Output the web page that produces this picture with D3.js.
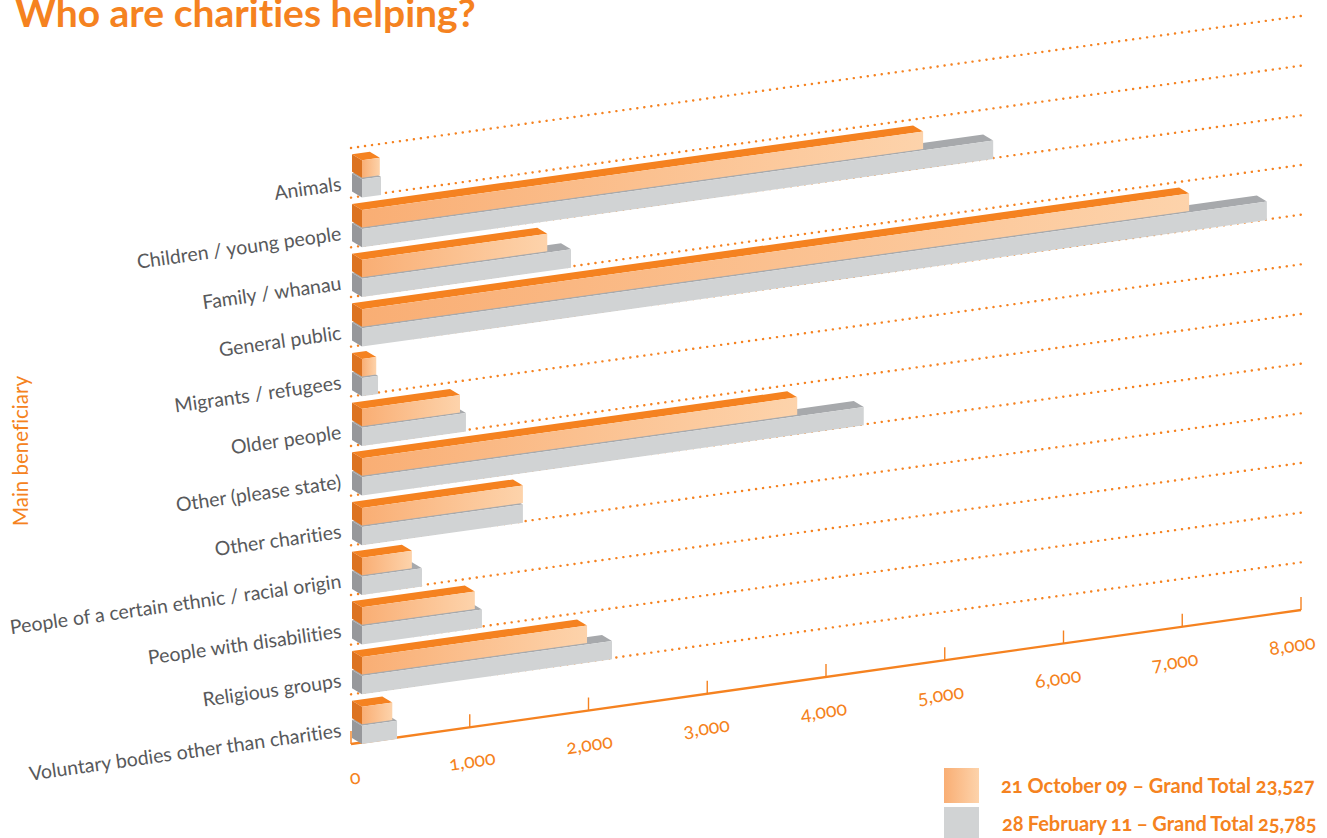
<!DOCTYPE html>
<html><head><meta charset="utf-8">
<script src="https://cdn.jsdelivr.net/npm/d3@7"></script>
<style>html,body{margin:0;padding:0;background:#fff;overflow:hidden}svg{display:block}
text{font-family:Lato,"Open Sans",sans-serif;font-variant-ligatures:none;font-feature-settings:"onum" 1,"liga" 0}</style>
</head><body><svg id="c" width="1327" height="838"></svg>
<script>
const categories = ["Animals","Children / young people","Family / whanau","General public","Migrants / refugees","Older people","Other (please state)","Other charities","People of a certain ethnic / racial origin","People with disabilities","Religious groups","Voluntary bodies other than charities"];
const values2009 = [150,4725,1560,6965,120,825,3665,1355,420,950,1895,255];
const values2011 = [160,5315,1760,7620,135,875,4225,1355,505,1010,2105,295];
const ticks = [0,1000,2000,3000,4000,5000,6000,7000,8000];
const legendLabels = ["21 October 09 – Grand Total 23,527","28 February 11 – Grand Total 25,785"];

const svg = d3.select("#c");
const ORANGE="#f58220";
const x = d3.scaleLinear().domain([0,8000]).range([351,1301]);
const rise = d3.scaleLinear().domain([0,8000]).range([0,134]);
const riseGrid = d3.scaleLinear().domain([0,8000]).range([0,132]);
const riseBar = d3.scaleLinear().domain([0,8000]).range([0,133]);
const band = d3.scaleBand().domain(categories).range([148,744]);
const labelX = d3.scaleLinear().domain([0,8000]).range([356,1293]);
const labelY = d3.scaleLinear().domain([0,8000]).range([784,652]);

const defs = svg.append("defs");
const g = defs.append("linearGradient").attr("id","og");
g.append("stop").attr("offset",0).attr("stop-color","#f9ae74");
g.append("stop").attr("offset",1).attr("stop-color","#fdd3ab");

svg.append("text").attr("x",15).attr("y",27).attr("font-size",39).attr("font-weight",700).attr("fill",ORANGE).text("Who are charities helping?");

// grid
svg.append("g").selectAll("line").data(categories).join("line")
 .attr("x1",x(0)).attr("x2",x(8000))
 .attr("y1",d=>band(d)).attr("y2",d=>band(d)-riseGrid(8000))
 .attr("stroke",ORANGE).attr("stroke-width",2.4).attr("stroke-linecap","round").attr("stroke-dasharray","0.1 6.95");

// axis
const y0=band.range()[1];
svg.append("line").attr("x1",x(0)).attr("y1",y0).attr("x2",x(8000)).attr("y2",y0-rise(8000)).attr("stroke",ORANGE).attr("stroke-width",2.3);
svg.append("g").selectAll("line").data(ticks).join("line")
 .attr("x1",d=>x(d)).attr("x2",d=>x(d))
 .attr("y1",d=>y0-rise(d)).attr("y2",d=>y0-rise(d)-13)
 .attr("stroke",ORANGE).attr("stroke-width",1.4);
svg.append("g").selectAll("text").data(ticks).join("text")
 .attr("transform",d=>`translate(${labelX(d)},${labelY(d)}) rotate(-8)`)
 .attr("text-anchor","middle").attr("font-size",19.5).attr("fill",ORANGE).attr("font-weight",400)
 .text(d=>d3.format(",")(d));

// bars
const D=10, DY=6;
function bar(sel,val,off,h,cols){
  const rows=categories.map((c,i)=>{
    const fx0=x(0)+11, fx1=x(val[i])+11, r=riseBar(val[i]), t0=band(c)+off, 
      t1=t0-r;
    return {fx0,fx1,t0,t1,h};
  });
  const P=a=>a.map(p=>p.join(",")).join(" ");
  const gs=sel.append("g").selectAll("g").data(rows).join("g");
  gs.append("polygon").attr("points",d=>P([[d.fx0-D,d.t0-DY],[d.fx1-D,d.t1-DY],[d.fx1,d.t1],[d.fx0,d.t0]])).attr("fill",cols.top);
  gs.append("polygon").attr("points",d=>P([[d.fx0-D,d.t0-DY],[d.fx0,d.t0],[d.fx0,d.t0+d.h],[d.fx0-D,d.t0+d.h-DY]])).attr("fill",cols.side);
  gs.append("polygon").attr("points",d=>P([[d.fx0,d.t0],[d.fx1,d.t1],[d.fx1,d.t1+d.h],[d.fx0,d.t0+d.h]])).attr("fill",cols.front);
}
const bars=svg.append("g");
bar(bars,values2011,31.3,18.3,{top:"#a7a9ac",side:"#97989b",front:"#d1d3d4"});
bar(bars,values2009,12.3,17.5,{top:ORANGE,side:"#dc7321",front:"url(#og)"});

// category labels
svg.append("g").selectAll("text").data(categories).join("text")
 .attr("transform",d=>`translate(342,${band(d)+42.5}) rotate(-8)`)
 .attr("text-anchor","end").attr("font-size",19.5).attr("fill","#58595b").text(d=>d);

svg.append("text").attr("transform","translate(28,451) rotate(-90)").attr("text-anchor","middle").attr("font-size",20.5).attr("fill",ORANGE).text("Main beneficiary");

// legend
const ly=d3.scaleBand().domain(legendLabels).range([768,846]);
const lg=svg.append("g").selectAll("g").data(legendLabels).join("g");
lg.append("rect").attr("x",944).attr("width",35).attr("y",d=>ly(d)).attr("height",35).attr("fill",(d,i)=>i?"#d1d3d4":"url(#og)");
lg.append("text").attr("x",(d,i)=>1001+i).attr("y",(d,i)=>ly(d)+25-i*1).attr("font-size",20).attr("word-spacing",(d,i)=>i?-0.7:0).attr("font-weight",700).attr("fill",ORANGE).text(d=>d);
</script></body></html>
